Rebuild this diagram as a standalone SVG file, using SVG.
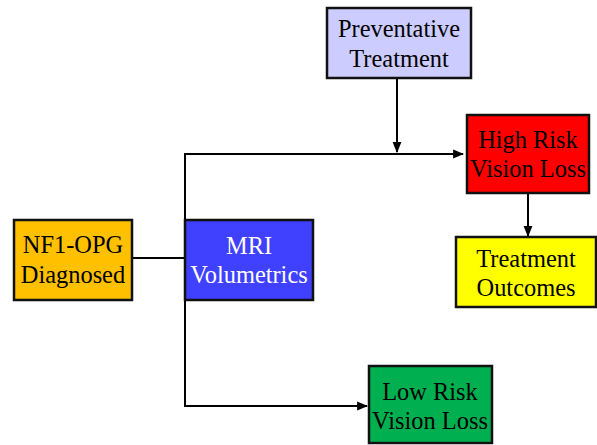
<svg xmlns="http://www.w3.org/2000/svg" width="597" height="445" viewBox="0 0 597 445">
<style>
.box{stroke:#111;stroke-width:2.5}
.t{font-family:"Liberation Serif","Times New Roman",serif;font-size:24.4px;text-anchor:middle;fill:#000}
.w{fill:#fff}
.c{stroke:#000;stroke-width:2;fill:none}
</style>
<defs>
<marker id="ah" viewBox="0 0 10 10" refX="9" refY="5" markerWidth="11" markerHeight="11" markerUnits="userSpaceOnUse" orient="auto">
<path d="M0,1 L10,5 L0,9 Z" fill="#000"/>
</marker>
</defs>
<rect width="597" height="445" fill="#fff"/>
<g id="connectors">
<line class="c" x1="132" y1="258" x2="185" y2="258"/>
<polyline class="c" points="185,153 185,406 367,406" marker-end="url(#ah)"/>
<line class="c" x1="185" y1="154" x2="463" y2="154" marker-end="url(#ah)"/>
<line class="c" x1="397" y1="78" x2="397" y2="152" marker-end="url(#ah)"/>
<line class="c" x1="528" y1="193" x2="528" y2="236" marker-end="url(#ah)"/>
</g>
<g id="nf1">
<rect class="box" x="14" y="220" width="118" height="80" fill="#FFC000"/>
<text class="t" x="73" y="253">NF1-OPG</text>
<text class="t" x="73" y="283">Diagnosed</text>
</g>
<g id="mri">
<rect class="box" x="185" y="220" width="128" height="80" fill="#4040FF"/>
<text class="t w" x="249" y="254">MRI</text>
<text class="t w" x="249" y="283">Volumetrics</text>
</g>
<g id="preventative">
<rect class="box" x="327" y="8" width="144" height="70" fill="#CCCCFF"/>
<text class="t" x="399" y="37">Preventative</text>
<text class="t" x="399" y="67">Treatment</text>
</g>
<g id="highrisk">
<rect class="box" x="467" y="115" width="122" height="78" fill="#FF0000"/>
<text class="t" x="528" y="148">High Risk</text>
<text class="t" x="528" y="177">Vision Loss</text>
</g>
<g id="outcomes">
<rect class="box" x="456" y="237" width="140" height="70" fill="#FFFF00"/>
<text class="t" x="526" y="267">Treatment</text>
<text class="t" x="526" y="296">Outcomes</text>
</g>
<g id="lowrisk">
<rect class="box" x="369" y="366" width="123" height="77" fill="#00B050"/>
<text class="t" x="430" y="400">Low Risk</text>
<text class="t" x="430" y="429">Vision Loss</text>
</g>
</svg>
